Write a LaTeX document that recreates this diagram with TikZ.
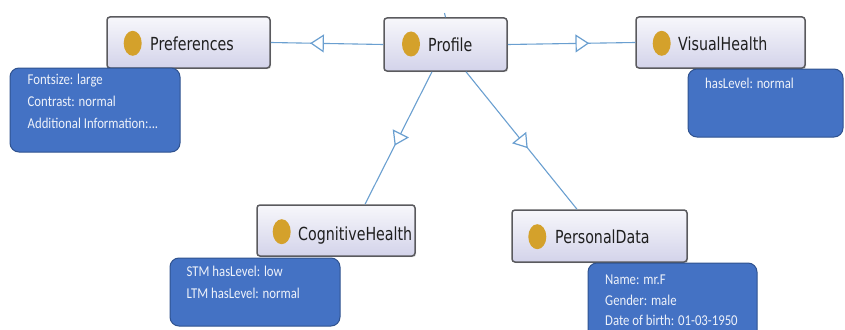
\documentclass[tikz,border=0pt]{standalone}
\usepackage{fontspec}
\newfontfamily\titlefont[FakeStretch=0.79]{DejaVu Sans}
\newfontfamily\notefont[FakeStretch=0.85]{Carlito}
\usetikzlibrary{decorations.markings,shadows}

\definecolor{linkblue}{HTML}{6A9FD0}
\definecolor{boxborder}{HTML}{5A5A5E}
\definecolor{boxtop}{HTML}{F7F7FB}
\definecolor{boxbottom}{HTML}{D3D3EA}
\definecolor{dotgold}{HTML}{D4A12B}
\definecolor{notefill}{HTML}{4472C4}
\definecolor{noteborder}{HTML}{2F528F}
\definecolor{notetext}{HTML}{EEF2FA}

\tikzset{
  classbox/.style={draw=boxborder, line width=1.5pt, rounded corners=3pt,
    top color=boxtop, bottom color=boxbottom,
    drop shadow={shadow xshift=1.2pt, shadow yshift=-1.2pt, opacity=0.25}},
  classname/.style={anchor=base west, inner sep=0pt, font=\titlefont\fontsize{18}{20}\selectfont, text=black!88},
  notebox/.style={draw=noteborder, line width=1pt, fill=notefill, rounded corners=9pt},
  noteline/.style={anchor=base west, inner sep=0pt, font=\notefont\fontsize{15}{17}\selectfont, text=notetext},
  link/.style={draw=linkblue, line width=1.1pt},
  % hollow subclass triangle placed part-way along a connector
  midtip/.style={postaction={decorate}, decoration={markings,
    mark=at position #1 with {\draw[linkblue, line width=1.2pt, fill=white, line join=miter]
      (0pt,0pt) -- (-12pt,8pt) -- (-12pt,-8pt) -- cycle;}}},
}

\begin{document}
\begin{tikzpicture}[x=1pt, y=-1pt]
  \useasboundingbox (0,0) rectangle (845,329);

  % class boxes
  \node[classbox, minimum width=163, minimum height=51] (pref) at (188.5,42.5) {};
  \node[classbox, minimum width=123, minimum height=53] (prof) at (445.5,44.5) {};
  \node[classbox, minimum width=169, minimum height=51] (vis)  at (720.5,42.5) {};
  \node[classbox, minimum width=158, minimum height=51] (cog)  at (336,230.5) {};
  \node[classbox, minimum width=175, minimum height=52] (pers) at (599.5,236) {};

  % class dots
  \fill[dotgold] (132.7,43.3) ellipse (9 and 12.5);
  \fill[dotgold] (411,44) ellipse (9 and 12.5);
  \fill[dotgold] (661.7,43.3) ellipse (9 and 12.5);
  \fill[dotgold] (281.7,231.7) ellipse (9 and 12.5);
  \fill[dotgold] (537.3,236.7) ellipse (9 and 12.5);

  % class names
  \node[classname] (preft) at (150,50.5) {Preferences};
  \node[classname] (proft) at (428,51.5) {Profile};
  \node[classname] (vist)  at (678,50.5) {VisualHealth};
  \node[classname] (cogt)  at (298,240) {CognitiveHealth};
  \node[classname] (perst) at (555,243) {PersonalData};

  % connector end points on the box edges
  \coordinate (profsl) at ([xshift=-13.5pt]prof.south);
  \coordinate (profsr) at ([xshift=20.5pt]prof.south);
  \coordinate (cogn)   at ([xshift=29pt]cog.north);
  \coordinate (persn)  at ([xshift=-22.5pt]pers.north);
  \coordinate (stub)   at (444.5,13);

  % subclass connectors
  \draw[link, midtip=0.64] (prof.west) -- (pref.east);
  \draw[link, midtip=0.63] (prof.east) -- (vis.west);
  \draw[link, midtip=0.55] (profsl) -- (cogn);
  \draw[link, midtip=0.55] (profsr) -- (persn);
  \draw[link] (prof.north) -- (stub);

  % annotation boxes
  \draw[notebox] (10,68) rectangle (180,152);
  \node[noteline] (p1) at (27.5,84) {Fontsize: large};
  \node[noteline] (p2) at (27.5,106) {Contrast: normal};
  \node[noteline] (p3) at (27.5,128) {Additional Information:...};

  \draw[notebox] (688,69) rectangle (843,137);
  \node[noteline] (v1) at (705,88) {hasLevel: normal};

  \draw[notebox] (170,258) rectangle (340,326);
  \node[noteline] (c1) at (186.5,276.5) {STM hasLevel: low};
  \node[noteline] (c2) at (186.5,298) {LTM hasLevel: normal};

  \draw[notebox] (588,263) rectangle (757,345);
  \node[noteline] (d1) at (605,284.5) {Name: mr.F};
  \node[noteline] (d2) at (605,305) {Gender: male};
  \node[noteline] (d3) at (605,325) {Date of birth: 01-03-1950};
\end{tikzpicture}
\end{document}
